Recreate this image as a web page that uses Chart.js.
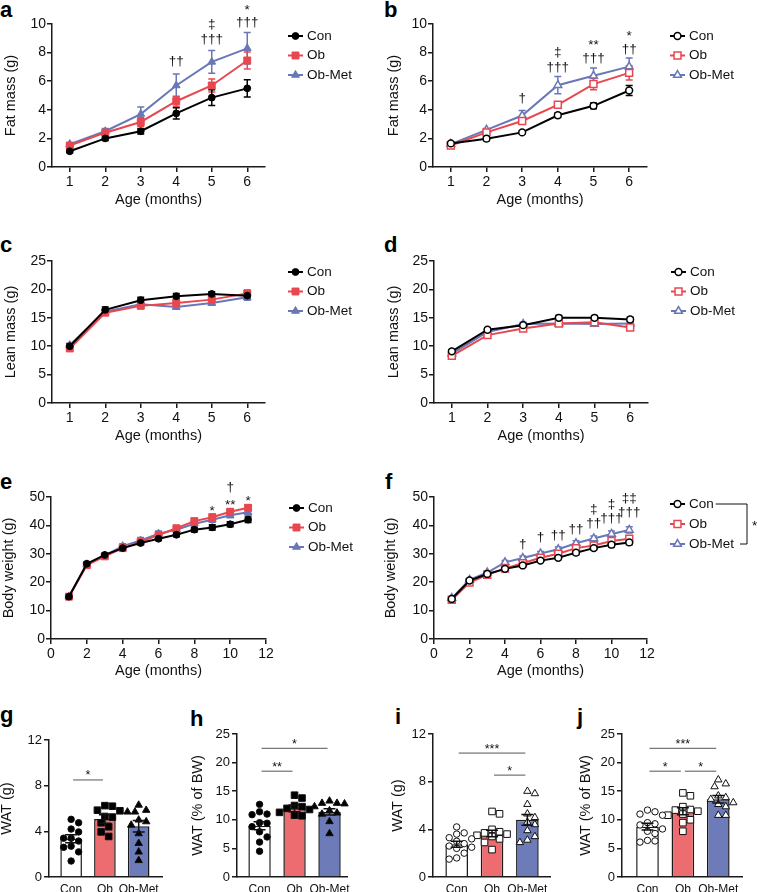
<!DOCTYPE html>
<html><head><meta charset="utf-8">
<script src="https://cdn.jsdelivr.net/npm/chart.js@4.4.1/dist/chart.umd.min.js"></script>
<style>
html,body{margin:0;padding:0;background:#fff}
body{width:757px;height:892px;position:relative;overflow:hidden;font-family:"Liberation Sans",Arial,sans-serif}
canvas{position:absolute}
.lbl{position:absolute;font-weight:bold;font-size:22px;line-height:22px;color:#000}
</style></head><body>
<div class="lbl" style="left:0;top:-1px">a</div>
<div class="lbl" style="left:384px;top:-1px">b</div>
<div class="lbl" style="left:0;top:234px">c</div>
<div class="lbl" style="left:384px;top:234px">d</div>
<div class="lbl" style="left:0;top:471px">e</div>
<div class="lbl" style="left:385px;top:471px">f</div>
<div class="lbl" style="left:0;top:704px">g</div>
<div class="lbl" style="left:190px;top:708px">h</div>
<div class="lbl" style="left:395px;top:706px">i</div>
<div class="lbl" style="left:577px;top:706px">j</div>
<script>
// ---------------- DATA ----------------
const months6 = [1, 2, 3, 4, 5, 6];
const months11 = [1, 2, 3, 4, 5, 6, 7, 8, 9, 10, 11];
const groups = ['Con', 'Ob', 'Ob-Met'];

// a: Fat mass (g)
const aCon = [1.1, 2.0, 2.5, 3.75, 4.85, 5.5];
const aConSem = [0.1, 0.15, 0.2, 0.4, 0.55, 0.6];
const aOb = [1.5, 2.4, 3.15, 4.6, 5.7, 7.45];
const aObSem = [0.1, 0.15, 0.3, 0.35, 0.45, 0.6];
const aMet = [1.6, 2.5, 3.7, 5.7, 7.35, 8.3];
const aMetSem = [0.1, 0.2, 0.5, 0.8, 0.8, 1.1];
const aMarks = [{x:4,y:7.4,t:'††'},{x:5,y:10.0,t:'‡'},{x:5,y:8.95,t:'†††'},{x:6,y:11.2,t:'*'},{x:6,y:10.1,t:'†††'}];

// b: Fat mass (g)
const bCon = [1.65, 1.98, 2.42, 3.62, 4.28, 5.35];
const bConSem = [0.12, 0.15, 0.1, 0.15, 0.2, 0.35];
const bOb = [1.5, 2.42, 3.22, 4.35, 5.8, 6.58];
const bObSem = [0.1, 0.15, 0.15, 0.15, 0.4, 0.5];
const bMet = [1.6, 2.6, 3.6, 5.72, 6.38, 7.02];
const bMetSem = [0.1, 0.1, 0.35, 0.6, 0.55, 0.6];
const bMarks = [{x:3,y:4.8,t:'†'},{x:4,y:8.05,t:'‡'},{x:4,y:6.95,t:'†††'},{x:5,y:8.75,t:'**'},{x:5,y:7.6,t:'†††'},{x:6,y:9.35,t:'*'},{x:6,y:8.2,t:'††'}];

// c: Lean mass (g)
const cCon = [10.0, 16.4, 18.1, 18.8, 19.2, 18.9];
const cConSem = [0.4, 0.5, 0.5, 0.5, 0.4, 0.6];
const cOb = [9.6, 15.9, 17.1, 17.6, 18.2, 19.3];
const cObSem = [0.3, 0.4, 0.4, 0.6, 0.5, 0.6];
const cMet = [10.2, 16.1, 17.4, 16.9, 17.6, 18.6];
const cMetSem = [0.3, 0.4, 0.5, 0.4, 0.4, 0.5];

// d: Lean mass (g)
const dCon = [9.1, 12.9, 13.7, 15.0, 15.0, 14.7];
const dConSem = [0.3, 0.3, 0.3, 0.4, 0.3, 0.4];
const dOb = [8.3, 11.95, 13.1, 14.0, 14.2, 13.3];
const dObSem = [0.3, 0.3, 0.3, 0.4, 0.4, 0.5];
const dMet = [8.7, 12.5, 13.9, 14.0, 13.9, 14.0];
const dMetSem = [0.3, 0.3, 0.3, 0.3, 0.4, 0.3];

// e: Body weight (g)
const eCon = [14.9, 26.5, 29.6, 32.0, 33.8, 35.3, 36.7, 38.5, 39.3, 40.4, 42.0];
const eConSem = [0.5, 0.6, 0.6, 0.6, 0.6, 0.6, 0.7, 0.8, 0.9, 0.9, 1.0];
const eOb = [14.9, 26.0, 29.1, 32.0, 34.2, 36.6, 39.0, 41.5, 42.9, 44.8, 46.2];
const eObSem = [0.4, 0.5, 0.6, 0.7, 0.7, 0.8, 0.8, 0.9, 0.9, 1.0, 1.0];
const eMet = [15.0, 26.3, 29.4, 32.7, 34.7, 37.1, 38.5, 40.6, 42.0, 43.6, 44.6];
const eMetSem = [0.4, 0.5, 0.6, 0.8, 1.0, 0.9, 0.8, 0.8, 0.9, 0.9, 1.0];
const eMarks = [{x:9,y:46.2,t:'*'},{x:10,y:48.2,t:'**'},{x:10,y:53.3,t:'†'},{x:11,y:49.4,t:'*'}];

// f: Body weight (g)
const fCon = [14.1, 20.6, 22.9, 24.7, 25.9, 27.6, 28.6, 30.4, 32.0, 33.2, 34.0];
const fConSem = [0.5, 0.5, 0.5, 0.5, 0.6, 0.6, 0.6, 0.7, 0.7, 0.8, 0.8];
const fOb = [13.8, 19.9, 22.6, 24.8, 26.7, 28.6, 30.0, 32.0, 32.9, 34.5, 35.3];
const fObSem = [0.4, 0.5, 0.5, 0.6, 0.7, 0.7, 0.8, 0.9, 0.9, 1.0, 1.0];
const fMet = [14.4, 20.8, 23.4, 27.0, 28.5, 30.1, 31.6, 33.7, 35.4, 37.0, 38.4];
const fMetSem = [0.4, 0.5, 0.5, 0.6, 0.7, 0.7, 0.8, 0.9, 0.9, 1.0, 1.1];
const fMarks = [{x:5,y:33.4,t:'†'},{x:6,y:35.7,t:'†'},{x:7,y:36.6,t:'††'},{x:8,y:38.8,t:'††'},{x:9,y:45.5,t:'‡'},{x:9,y:40.6,t:'††'},{x:10,y:47.6,t:'‡'},{x:10,y:42.6,t:'†††'},{x:11,y:49.7,t:'‡‡'},{x:11,y:44.7,t:'†††'}];

// g: WAT (g)
const gCon = [5.05, 4.75, 4.2, 3.95, 3.4, 3.4, 3.15, 2.7, 2.6, 2.2, 1.4];
const gOb = [6.25, 6.2, 5.85, 5.8, 5.3, 5.25, 4.75, 4.4, 3.95, 3.55];
const gMet = [6.3, 5.85, 5.7, 5.7, 5.0, 4.85, 4.55, 3.8, 2.95, 2.2, 1.45];
const gMean = [3.35, 5.08, 4.45];
const gSem = [0.35, 0.38, 0.5];
const gSig = [{a:0,b:1,y:8.5,t:'*'}];

// h: WAT (% of BW)
const hCon = [12.7, 11.4, 11.0, 10.9, 9.5, 9.4, 8.8, 7.9, 7.0, 6.1, 4.5];
const hOb = [14.3, 13.8, 12.5, 12.3, 12.0, 11.8, 11.3, 10.8, 10.7];
const hMet = [13.3, 12.9, 12.9, 12.8, 12.3, 11.6, 11.2, 11.0, 9.7, 7.6];
const hMean = [8.95, 12.0, 11.4];
const hSem = [0.7, 0.6, 0.55];
const hSig = [{a:0,b:2,y:22.5,t:'*'},{a:0,b:1,y:18.5,t:'**'}];

// i: WAT (g)
const iCon = [4.2, 3.7, 3.6, 3.3, 3.2, 3.0, 2.8, 2.6, 2.5, 2.4, 2.0, 1.6, 1.5];
const iOb = [5.5, 5.3, 4.0, 3.8, 3.7, 3.6, 3.5, 3.4, 3.2, 2.9, 2.3];
const iMet = [7.2, 7.0, 6.1, 5.3, 5.0, 4.6, 4.4, 3.9, 3.4, 3.1, 2.9];
const iMean = [2.75, 3.65, 4.8];
const iSem = [0.25, 0.28, 0.45];
const iSig = [{a:0,b:2,y:10.4,t:'***'},{a:1,b:2,y:8.55,t:'*'}];

// j: WAT (% of BW)
const jCon = [11.7, 11.4, 11.0, 10.8, 9.5, 9.3, 9.1, 8.4, 8.0, 7.6, 6.4, 6.3, 6.1];
const jOb = [14.7, 14.2, 12.3, 11.8, 11.7, 11.5, 11.0, 10.8, 10.0, 9.5, 8.0];
const jMet = [17.0, 16.3, 15.8, 14.2, 13.9, 13.6, 13.0, 12.7, 12.3, 10.8, 10.8];
const jMean = [8.8, 11.5, 13.6];
const jSem = [0.6, 0.6, 0.65];
const jSig = [{a:0,b:2,y:22.5,t:'***'},{a:0,b:1,y:18.5,t:'*'},{a:1,b:2,y:18.5,t:'*'}];

// ---------------- STYLE / HELPERS ----------------
const FONT = '"Liberation Sans", Arial, Helvetica, sans-serif';
Chart.defaults.font.family = FONT;
Chart.defaults.color = '#111';
const INK = '#1a1a1a';
const BLACK = '#000000', RED = '#e8474f', BLUE = '#6a77b6';
const RED_FILL = '#ec6c70', BLUE_FILL = '#6d7cb8';
const STYLES = ['circle', 'rect', 'triangle'];
const RADII = [3.4, 4.9, 4.5];

function makeCanvas(L, T, W, H) {
  const c = document.createElement('canvas');
  c.width = W; c.height = H;
  c.style.left = L + 'px'; c.style.top = T + 'px';
  c.style.width = W + 'px'; c.style.height = H + 'px';
  document.body.appendChild(c);
  return c;
}

function drawMarker(ctx, style, x, y, r, fill, stroke, lw) {
  ctx.save(); ctx.beginPath();
  if (style === 'circle') ctx.arc(x, y, r, 0, Math.PI * 2);
  else if (style === 'rect') { const s = r * Math.SQRT1_2; ctx.rect(x - s, y - s, 2 * s, 2 * s); }
  else { for (let k = 0; k < 3; k++) { const a = k * 2 * Math.PI / 3; const px = x + Math.sin(a) * r, py = y - Math.cos(a) * r; k ? ctx.lineTo(px, py) : ctx.moveTo(px, py); } ctx.closePath(); }
  ctx.fillStyle = fill; ctx.fill(); ctx.lineWidth = lw; ctx.strokeStyle = stroke; ctx.stroke();
  ctx.restore();
}

function axisBase(tickSize) {
  return {
    grid: { display: true, drawOnChartArea: false, drawTicks: true, tickLength: 5, color: INK, lineWidth: 1.5 },
    border: { display: true, color: INK, width: 1.5 },
    ticks: { font: { size: tickSize }, color: '#111', maxRotation: 0, autoSkip: false }
  };
}

function noPad(ax) { ax.paddingTop = 0; ax.paddingBottom = 0; ax.paddingLeft = 0; ax.paddingRight = 0; }

const errLinePlugin = {
  id: 'errLine',
  beforeDatasetsDraw(chart) {
    const { ctx, scales: { x, y } } = chart;
    chart.data.datasets.slice().reverse().forEach(ds => {
      if (!ds.sem) return;
      ctx.save(); ctx.strokeStyle = ds.borderColor; ctx.lineWidth = 1.5;
      ds.data.forEach((pt, i) => {
        const px = x.getPixelForValue(pt.x);
        const yt = y.getPixelForValue(pt.y + ds.sem[i]);
        const yb = y.getPixelForValue(pt.y - ds.sem[i]);
        ctx.beginPath();
        ctx.moveTo(px, yt); ctx.lineTo(px, yb);
        ctx.moveTo(px - 3.5, yt); ctx.lineTo(px + 3.5, yt);
        ctx.moveTo(px - 3.5, yb); ctx.lineTo(px + 3.5, yb);
        ctx.stroke();
      });
      ctx.restore();
    });
  }
};

function lineChart(p) {
  const c = makeCanvas(p.L, p.T, p.W, p.H);
  const datasets = p.series.map(s => ({
    type: 'line', label: s.label,
    data: p.x.map((xv, i) => ({ x: xv, y: s.y[i] })),
    borderColor: s.color, backgroundColor: s.color, borderWidth: 2, tension: 0, fill: false,
    pointStyle: s.style, pointRadius: s.r, pointHoverRadius: s.r,
    pointBorderColor: s.color, pointBackgroundColor: p.open ? '#fff' : s.color,
    pointBorderWidth: p.open ? 1.5 : 1, clip: false, sem: s.sem
  }));
  const annPlugin = {
    id: 'ann',
    afterDraw(chart) {
      const { ctx, scales: { x, y } } = chart;
      ctx.save(); ctx.font = '13.5px ' + FONT; ctx.fillStyle = '#111';
      ctx.textAlign = 'center'; ctx.textBaseline = 'middle';
      (p.marks || []).forEach(a => {
        const star = /^\*+$/.test(a.t);
        ctx.fillText(a.t, x.getPixelForValue(a.x), y.getPixelForValue(a.y) + (star ? 3 : 0));
      });
      ctx.restore();
    }
  };
  const legPlugin = {
    id: 'leg',
    afterDraw(chart) {
      const { ctx, chartArea: ca } = chart;
      const x0 = ca.right + 23;
      ctx.save(); ctx.font = '13.5px ' + FONT; ctx.textBaseline = 'middle'; ctx.textAlign = 'left';
      p.series.forEach((s, i) => {
        const yy = ca.top + p.legDY + i * p.legStep;
        ctx.strokeStyle = s.color; ctx.lineWidth = 2;
        ctx.beginPath(); ctx.moveTo(x0, yy); ctx.lineTo(x0 + 15, yy); ctx.stroke();
        drawMarker(ctx, s.style, x0 + 7.5, yy, s.r, p.open ? '#fff' : s.color, s.color, p.open ? 1.5 : 1);
        ctx.fillStyle = '#111'; ctx.fillText(s.label, x0 + 19, yy);
      });
      if (p.bracket) {
        const yTop = ca.top + p.legDY, yBot = yTop + 2 * p.legStep;
        const xs = x0 + 19 + ctx.measureText(p.series[0].label).width + 2;
        const xe = x0 + 19 + ctx.measureText(p.series[2].label).width + 6;
        const xr = x0 + 77;
        ctx.strokeStyle = '#111'; ctx.lineWidth = 1;
        ctx.beginPath(); ctx.moveTo(xs, yTop); ctx.lineTo(xr, yTop); ctx.lineTo(xr, yBot); ctx.lineTo(xe, yBot); ctx.stroke();
        ctx.fillStyle = '#111'; ctx.fillText('*', xr + 5, (yTop + yBot) / 2 + 2);
      }
      ctx.restore();
    }
  };
  const xa = axisBase(14), ya = axisBase(14);
  new Chart(c, {
    type: 'line',
    data: { datasets },
    options: {
      responsive: false, animation: false, devicePixelRatio: 1, events: [],
      layout: { padding: { left: 0, right: p.L + p.W - p.rightX, top: p.topY - p.T, bottom: 0 } },
      plugins: { legend: { display: false }, tooltip: { enabled: false } },
      scales: {
        x: Object.assign(xa, {
          type: 'linear', min: p.xMin, max: p.xMax, offset: false,
          afterBuildTicks: ax => { ax.ticks = p.xTicks.map(v => ({ value: v })); },
          afterFit: ax => { ax.height = p.T + p.H - p.bottomY; noPad(ax); },
          ticks: Object.assign(xa.ticks, { padding: 2 }),
          title: { display: true, text: 'Age (months)', font: { size: 14.5 }, color: '#111', padding: { top: 0, bottom: 4 } }
        }),
        y: Object.assign(ya, {
          type: 'linear', min: 0, max: p.yMax,
          afterFit: ax => { ax.width = p.axisX - p.L; noPad(ax); },
          ticks: Object.assign(ya.ticks, { padding: 1, stepSize: p.yStep }),
          title: { display: true, text: p.yTitle, font: { size: 14.5 }, color: '#111', padding: { top: 2, bottom: 0 } }
        })
      }
    },
    plugins: [errLinePlugin, annPlugin, legPlugin]
  });
}

function swarm(vals, ky, kx, D) {
  const placed = []; const offs = new Array(vals.length).fill(0);
  const order = vals.map((v, i) => i).sort((a, b) => vals[b] - vals[a]);
  for (const i of order) {
    const py = vals[i] * ky;
    for (let k = 0; k < 60; k++) {
      const px = k === 0 ? 0 : (k % 2 ? 1 : -1) * Math.ceil(k / 2) * D * 0.5;
      if (placed.every(q => Math.hypot(q.x - px, q.y - py) >= D * 0.95)) { placed.push({ x: px, y: py }); offs[i] = px / kx; break; }
    }
  }
  return offs;
}

function barChart(p) {
  const c = makeCanvas(p.L, p.T, p.W, p.H);
  const ky = (p.bottomY - p.topY) / p.yMax;
  const kx = (p.rightX - p.axisX) / (p.xMax - p.xMin);
  const datasets = [{
    type: 'bar', data: p.mean.map((m, i) => ({ x: i, y: m })),
    backgroundColor: ['#ffffff', RED_FILL, BLUE_FILL], borderColor: INK, borderWidth: 1.5,
    barPercentage: 0.8, categoryPercentage: 0.8, order: 2, sem: p.sem
  }];
  p.points.forEach((vals, g) => {
    const offs = swarm(vals, ky, kx, 7.5);
    datasets.push({
      type: 'scatter', data: vals.map((v, i) => ({ x: g + offs[i], y: v })),
      pointStyle: STYLES[g], pointRadius: RADII[g] * 0.95, pointHoverRadius: RADII[g] * 0.95,
      pointBackgroundColor: p.open ? '#ffffff' : '#000000', pointBorderColor: '#111',
      pointBorderWidth: 1, order: 1, clip: false
    });
  });
  const errBarPlugin = {
    id: 'errBar',
    afterDatasetsDraw(chart) {
      const { ctx, scales: { x, y } } = chart;
      ctx.save(); ctx.strokeStyle = '#111'; ctx.lineWidth = 1.5;
      p.mean.forEach((m, i) => {
        const px = x.getPixelForValue(i), yt = y.getPixelForValue(m + p.sem[i]), yb = y.getPixelForValue(m - p.sem[i]);
        ctx.beginPath();
        ctx.moveTo(px, yt); ctx.lineTo(px, yb);
        ctx.moveTo(px - 6, yt); ctx.lineTo(px + 6, yt);
        ctx.moveTo(px - 6, yb); ctx.lineTo(px + 6, yb);
        ctx.stroke();
      });
      ctx.restore();
    }
  };
  const sigPlugin = {
    id: 'sig',
    afterDraw(chart) {
      const { ctx, scales: { x, y } } = chart;
      ctx.save();
      p.sig.forEach(s => {
        const x1 = x.getPixelForValue(s.a) + 2, x2 = x.getPixelForValue(s.b) - 2, py = y.getPixelForValue(s.y);
        ctx.strokeStyle = '#555'; ctx.lineWidth = 1;
        ctx.beginPath(); ctx.moveTo(x1, py); ctx.lineTo(x2, py); ctx.stroke();
        ctx.fillStyle = '#111'; ctx.font = '12.5px ' + FONT; ctx.textAlign = 'center'; ctx.textBaseline = 'middle';
        ctx.fillText(s.t, (x1 + x2) / 2, py - 4);
      });
      ctx.restore();
    }
  };
  const xa = axisBase(12), ya = axisBase(13);
  new Chart(c, {
    type: 'bar',
    data: { datasets },
    options: {
      responsive: false, animation: false, devicePixelRatio: 1, events: [],
      layout: { padding: { left: 0, right: p.L + p.W - p.rightX, top: p.topY - p.T, bottom: 0 } },
      plugins: { legend: { display: false }, tooltip: { enabled: false } },
      scales: {
        x: Object.assign(xa, {
          type: 'linear', min: p.xMin, max: p.xMax, offset: false,
          grid: { display: false, drawTicks: false, drawOnChartArea: false },
          afterBuildTicks: ax => { ax.ticks = groups.map((g, i) => ({ value: i })); },
          afterFit: ax => { ax.height = p.T + p.H - p.bottomY; noPad(ax); },
          ticks: Object.assign(xa.ticks, { padding: 5, callback: v => groups[v] })
        }),
        y: Object.assign(ya, {
          type: 'linear', min: 0, max: p.yMax,
          afterFit: ax => { ax.width = p.axisX - p.L; noPad(ax); },
          ticks: Object.assign(ya.ticks, { padding: 2, stepSize: p.yStep }),
          title: { display: true, text: p.yTitle, font: { size: 14.5 }, color: '#111', padding: { top: 2, bottom: 0 } }
        })
      }
    },
    plugins: [errBarPlugin, sigPlugin]
  });
}

function series3(con, conSem, ob, obSem, met, metSem) {
  return [
    { label: groups[0], y: con, sem: conSem, color: BLACK, style: STYLES[0], r: RADII[0] },
    { label: groups[1], y: ob, sem: obSem, color: RED, style: STYLES[1], r: RADII[1] },
    { label: groups[2], y: met, sem: metSem, color: BLUE, style: STYLES[2], r: RADII[2] }
  ];
}

// ---------------- PANELS ----------------
lineChart({ L: 0, T: 0, W: 378, H: 213, axisX: 52, topY: 24, bottomY: 167, rightX: 265,
  xMin: 0.5, xMax: 6.5, xTicks: months6, x: months6, yMax: 10, yStep: 2, yTitle: 'Fat mass (g)',
  series: series3(aCon, aConSem, aOb, aObSem, aMet, aMetSem), open: false, marks: aMarks, legDY: 12, legStep: 19.5 });

lineChart({ L: 383, T: 0, W: 374, H: 213, axisX: 433, topY: 24, bottomY: 167, rightX: 647,
  xMin: 0.5, xMax: 6.5, xTicks: months6, x: months6, yMax: 10, yStep: 2, yTitle: 'Fat mass (g)',
  series: series3(bCon, bConSem, bOb, bObSem, bMet, bMetSem), open: true, marks: bMarks, legDY: 12, legStep: 19.5 });

lineChart({ L: 0, T: 230, W: 378, H: 219, axisX: 52, topY: 261, bottomY: 403, rightX: 265,
  xMin: 0.5, xMax: 6.5, xTicks: months6, x: months6, yMax: 25, yStep: 5, yTitle: 'Lean mass (g)',
  series: series3(cCon, cConSem, cOb, cObSem, cMet, cMetSem), open: false, marks: [], legDY: 11, legStep: 19.5 });

lineChart({ L: 383, T: 230, W: 374, H: 219, axisX: 434, topY: 261, bottomY: 403, rightX: 648,
  xMin: 0.5, xMax: 6.5, xTicks: months6, x: months6, yMax: 25, yStep: 5, yTitle: 'Lean mass (g)',
  series: series3(dCon, dConSem, dOb, dObSem, dMet, dMetSem), open: true, marks: [], legDY: 11, legStep: 19.5 });

lineChart({ L: -2, T: 470, W: 380, H: 214, axisX: 51, topY: 497, bottomY: 639, rightX: 266,
  xMin: 0, xMax: 12, xTicks: [0, 2, 4, 6, 8, 10, 12], x: months11, yMax: 50, yStep: 10, yTitle: 'Body weight (g)',
  series: series3(eCon, eConSem, eOb, eObSem, eMet, eMetSem), open: false, marks: eMarks, legDY: 11, legStep: 19.5 });

lineChart({ L: 380, T: 470, W: 377, H: 214, axisX: 434, topY: 497, bottomY: 639, rightX: 647,
  xMin: 0, xMax: 12, xTicks: [0, 2, 4, 6, 8, 10, 12], x: months11, yMax: 50, yStep: 10, yTitle: 'Body weight (g)',
  series: series3(fCon, fConSem, fOb, fObSem, fMet, fMetSem), open: true, marks: fMarks, legDY: 7, legStep: 20, bracket: true });

barChart({ L: -4, T: 725, W: 172, H: 167, axisX: 49, topY: 740, bottomY: 877, rightX: 162,
  xMin: -0.655, xMax: 2.69, yMax: 12, yStep: 4, yTitle: 'WAT (g)',
  mean: gMean, sem: gSem, points: [gCon, gOb, gMet], open: false, sig: gSig });

barChart({ L: 187, T: 715, W: 168, H: 177, axisX: 237, topY: 734, bottomY: 877, rightX: 347,
  xMin: -0.645, xMax: 2.5, yMax: 25, yStep: 5, yTitle: 'WAT (% of BW)',
  mean: hMean, sem: hSem, points: [hCon, hOb, hMet], open: false, sig: hSig });

barChart({ L: 387, T: 715, W: 170, H: 177, axisX: 433, topY: 734, bottomY: 877, rightX: 550,
  xMin: -0.67, xMax: 2.64, yMax: 12, yStep: 4, yTitle: 'WAT (g)',
  mean: iMean, sem: iSem, points: [iCon, iOb, iMet], open: true, sig: iSig });

barChart({ L: 575, T: 715, W: 178, H: 177, axisX: 622, topY: 734, bottomY: 877, rightX: 742,
  xMin: -0.72, xMax: 2.67, yMax: 25, yStep: 5, yTitle: 'WAT (% of BW)',
  mean: jMean, sem: jSem, points: [jCon, jOb, jMet], open: true, sig: jSig });
</script>
</body></html>
